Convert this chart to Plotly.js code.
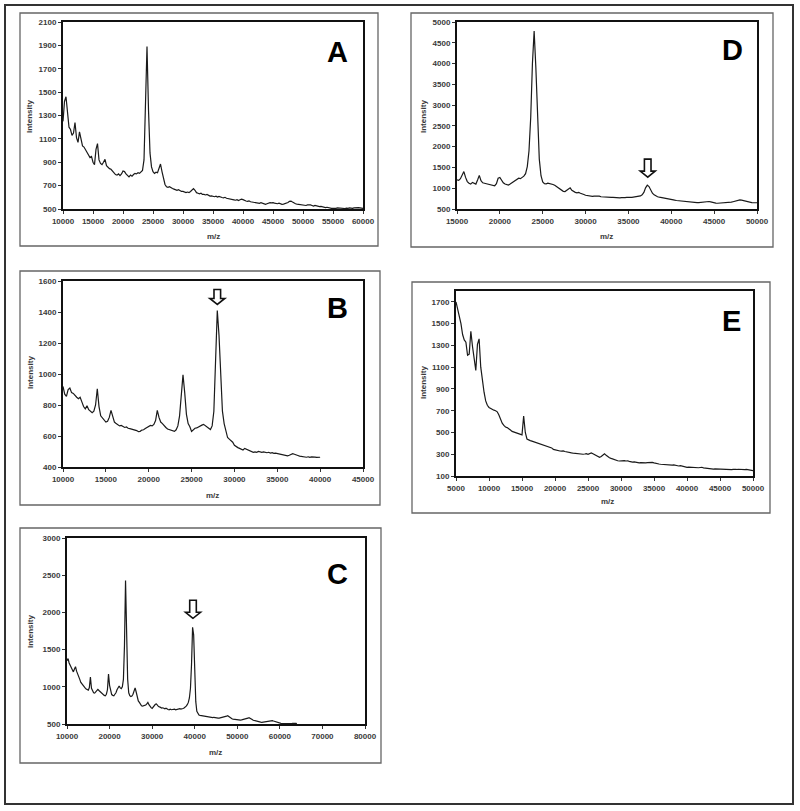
<!DOCTYPE html>
<html>
<head>
<meta charset="utf-8">
<script src="https://cdn.plot.ly/plotly-3.0.1.min.js"></script>
<style>html,body{margin:0;padding:0;background:#fff;}#chart{width:800px;height:811px;}</style>
</head>
<body>
<div id="chart"></div>
<script>
// ---------------- DATA ----------------
const panelLetters = ['A', 'B', 'C', 'D', 'E'];
const xAxisTitle = 'm/z';
const yAxisTitle = 'Intensity';

// Panel A: m/z 10000..60000 every 250
const mzStartA = 10000, mzStepA = 250;
const intensityA = [
  1250,1420,1460,1300,1200,1180,1130,1150,1240,1110,1070,1160,1080,1040,1030,1010,980,960,940,950,
  900,880,1010,1060,920,890,880,900,925,870,855,845,840,825,810,795,790,800,785,800,
  825,820,800,790,775,790,780,795,805,800,810,805,815,830,920,1450,1890,1350,980,860,
  820,805,815,810,850,885,820,760,710,690,685,690,680,675,670,665,660,665,655,650,
  650,645,640,645,640,650,665,675,660,640,635,630,635,625,625,620,625,615,610,612,
  608,605,610,602,608,600,598,595,600,592,590,585,588,580,578,575,580,572,578,585,
  580,570,568,565,570,562,560,555,558,552,550,548,555,550,545,540,545,550,555,552,
  555,550,548,545,550,545,540,542,545,550,555,565,568,560,550,545,542,540,535,532,
  530,528,530,535,538,535,530,525,530,525,520,520,522,518,515,512,515,510,508,505,
  505,502,505,510,508,505,502,505,504,508,505,510,508,505,510,512,508,512,510,506,
  505
];

// Panel B: m/z 10000..40000 every 200
const mzStartB = 10000, mzStepB = 200;
const intensityB = [
  920,870,855,900,910,880,875,860,850,840,850,820,790,775,795,770,760,750,760,800,905,790,730,715,700,
  690,695,720,765,720,690,680,670,665,668,660,655,658,650,648,645,640,642,635,628,630,638,640,648,655,
  662,668,665,675,700,765,720,690,680,665,655,645,640,638,632,630,640,665,730,880,995,880,740,680,660,
  630,640,650,652,660,662,670,675,665,660,650,642,665,760,1150,1410,1250,950,760,680,640,590,580,572,560,
  540,530,525,520,512,510,520,515,508,505,500,495,498,495,500,496,495,498,494,492,495,490,492,488,490,
  488,485,482,478,476,475,472,476,480,486,482,476,474,470,468,465,466,463,466,462,465,462,464,462,465,
  463
];

// Panel C: m/z 10000..64000 every 250
const mzStartC = 10000, mzStepC = 250;
const intensityC = [
  1350,1380,1320,1290,1250,1220,1200,1240,1270,1210,1180,1130,1100,1060,1040,1010,990,985,970,960,
  955,990,1130,980,935,920,915,935,950,965,950,935,920,905,895,885,880,900,960,1170,
  1020,930,895,885,880,900,920,960,1000,1010,985,975,1000,1100,1550,2430,1750,1100,920,880,
  870,875,900,950,985,930,860,810,790,760,745,740,745,740,755,770,790,760,735,720,
  710,730,750,765,770,750,735,730,720,715,718,710,705,712,700,695,690,700,692,698,
  695,700,690,695,700,695,705,700,710,708,715,725,740,760,790,850,980,1300,1800,1700,
  1150,800,670,630,620,615,612,608,610,605,600,602,598,595,592,590,588,585,590,585,
  588,582,580,578,582,585,590,592,588,595,605,612,600,585,578,570,565,562,560,558,
  555,556,554,552,555,558,556,560,565,570,578,585,580,570,560,550,545,540,535,532,
  530,528,525,522,525,528,526,530,532,535,538,540,542,545,540,535,530,522,515,512,
  510,508,506,505,504,503,505,504,503,505,504,506,508,512,515,510,505
];

// Panel D: m/z 15000..50000 every 200
const mzStartD = 15000, mzStepD = 200;
const intensityD = [
  1200,1190,1230,1330,1400,1260,1160,1120,1100,1140,1110,1100,1200,1310,1180,1130,1120,1110,1115,1100,1090,1085,1060,1110,1240,
  1260,1180,1130,1100,1080,1075,1100,1130,1160,1180,1200,1240,1230,1250,1290,1350,1520,1900,2700,4000,4780,3900,2500,1700,1300,
  1150,1110,1105,1120,1115,1110,1090,1070,1040,1010,980,950,925,920,950,990,1010,950,920,900,890,900,880,870,850,
  830,820,810,800,805,810,815,820,810,795,790,785,790,780,785,778,780,775,770,772,770,775,768,772,778,
  785,780,778,785,790,792,800,815,840,900,1010,1075,1040,950,880,840,810,795,785,775,765,760,750,742,735,
  725,718,712,705,700,695,690,685,680,672,665,660,655,652,650,652,655,660,665,670,672,668,680,670,655,
  645,640,638,640,642,640,645,648,652,658,665,675,688,700,712,718,712,700,685,670,660,655,652,650,648,
  650
];

// Panel E: m/z 5000..50000 every 250
const mzStartE = 5000, mzStepE = 250;
const intensityE = [
  1700,1640,1560,1500,1400,1350,1330,1210,1220,1430,1290,1200,1070,1310,1360,1100,960,870,790,750,
  730,720,712,705,700,690,660,620,585,565,550,545,530,522,510,505,500,495,490,485,
  478,650,500,440,430,425,420,415,410,405,400,395,390,385,380,378,372,365,358,345,
  340,335,332,330,328,330,325,320,318,315,312,310,308,305,302,300,298,300,302,305,
  300,310,312,305,295,285,278,272,280,295,305,290,275,268,262,255,250,245,240,238,
  240,245,242,238,240,235,230,228,230,225,222,220,222,220,218,220,222,225,228,225,
  220,215,212,210,208,206,204,202,200,202,198,200,202,198,195,192,195,190,185,182,
  180,182,180,178,180,177,175,176,178,180,175,172,170,168,166,165,164,166,165,163,
  165,163,160,158,155,156,155,158,160,158,160,162,160,158,156,158,160,157,155,152,
  150
];

// Axis ranges and tick steps (tick labels)
const xRangeA = [10000, 60000], yRangeA = [500, 2100], xTickA = 5000, yTickA = 200;
const xRangeB = [10000, 45000], yRangeB = [400, 1600], xTickB = 5000, yTickB = 200;
const xRangeC = [10000, 80000], yRangeC = [500, 3000], xTickC = 10000, yTickC = 500;
const xRangeD = [15000, 50000], yRangeD = [500, 5000], xTickD = 5000, yTickD = 500;
const xRangeE = [5000, 50000],  yRangeE = [100, 1800], xTickE = 5000, yTickE = 200;

// Marked peaks (hollow arrows): panel, m/z, intensity
const arrowPanels = ['B', 'C', 'D'];
const arrowMz = [28000, 39600, 37250];
const arrowIntensity = [1410, 1800, 1075];

// ---------------- LAYOUT ----------------
const W = 800, H = 811;
const FONT = 'Liberation Sans, Arial, sans-serif';
const INK = '#1a1a1a';

// plot-area pixel boxes [left, right, top, bottom]
const plotBox = {
  A: [63, 363, 22, 209],
  B: [63, 363, 281, 467],
  C: [67, 365, 538, 724],
  D: [457, 757, 22, 209],
  E: [456, 753, 291, 476]
};
// outer panel frames [left, right, top, bottom]
const panelFrame = {
  A: [20, 378, 13, 246],
  B: [20, 380, 271, 505],
  C: [20, 381, 528, 763],
  D: [411, 773, 13, 247],
  E: [412, 770, 282, 513]
};
const letterPos = { A: [337, 52], B: [337, 308], C: [337, 574], D: [732, 50], E: [731, 321] };
const ytitlePos = { A: [30, 117], B: [30, 373], C: [30, 632], D: [424, 117], E: [423, 383] };
const xtitlePos = { A: [213, 236], B: [212, 495], C: [215, 752], D: [606, 236], E: [607, 502] };
const arrowGap = { B: 6, C: 9, D: 8 };
const arrowLen = { B: 15, C: 18, D: 18 };

const series = {
  A: { x0: mzStartA, dx: mzStepA, y: intensityA, xr: xRangeA, yr: yRangeA, xt: xTickA, yt: yTickA },
  B: { x0: mzStartB, dx: mzStepB, y: intensityB, xr: xRangeB, yr: yRangeB, xt: xTickB, yt: yTickB },
  C: { x0: mzStartC, dx: mzStepC, y: intensityC, xr: xRangeC, yr: yRangeC, xt: xTickC, yt: yTickC },
  D: { x0: mzStartD, dx: mzStepD, y: intensityD, xr: xRangeD, yr: yRangeD, xt: xTickD, yt: yTickD },
  E: { x0: mzStartE, dx: mzStepE, y: intensityE, xr: xRangeE, yr: yRangeE, xt: xTickE, yt: yTickE }
};

const px = v => v / W;
const py = v => 1 - v / H;

const traces = [];
const layout = {
  width: W, height: H,
  margin: { l: 0, r: 0, t: 0, b: 0 },
  paper_bgcolor: '#fff', plot_bgcolor: '#fff',
  showlegend: false,
  font: { family: FONT, color: INK },
  shapes: [], annotations: []
};

// outer frame
layout.shapes.push({ type: 'rect', xref: 'paper', yref: 'paper', x0: px(5), x1: px(793), y0: py(5), y1: py(804),
  line: { color: '#333', width: 2 }, layer: 'below' });

const axisKey = {};
panelLetters.forEach((L, i) => {
  const n = i + 1;
  const xa = n === 1 ? 'xaxis' : 'xaxis' + n;
  const ya = n === 1 ? 'yaxis' : 'yaxis' + n;
  const xr = n === 1 ? 'x' : 'x' + n;
  const yr = n === 1 ? 'y' : 'y' + n;
  axisKey[L] = [xr, yr];
  const s = series[L];
  const b = plotBox[L];
  traces.push({
    type: 'scatter', mode: 'lines', x0: s.x0, dx: s.dx, y: s.y,
    xaxis: xr, yaxis: yr,
    line: { color: INK, width: 1.2 }, hoverinfo: 'skip'
  });
  const common = {
    showgrid: false, zeroline: false, showline: true, mirror: true,
    linecolor: '#111', linewidth: 2,
    ticks: 'outside', ticklen: 3, tickwidth: 1, tickcolor: '#333',
    tickfont: { family: FONT, size: 8, color: '#3a3a3a', weight: 'bold' },
    tickformat: 'd', fixedrange: true
  };
  layout[xa] = Object.assign({}, common, {
    domain: [px(b[0]), px(b[1])], range: s.xr, tick0: s.xr[0], dtick: s.xt,
    anchor: yr
  });
  layout[ya] = Object.assign({}, common, {
    domain: [py(b[3]), py(b[2])], range: s.yr, tick0: s.yr[0], dtick: s.yt,
    anchor: xr
  });
  const f = panelFrame[L];
  layout.shapes.push({ type: 'rect', xref: 'paper', yref: 'paper',
    x0: px(f[0]), x1: px(f[1]), y0: py(f[3]), y1: py(f[2]),
    line: { color: '#666', width: 1.3 }, layer: 'below' });
  layout.annotations.push({ xref: 'paper', yref: 'paper', x: px(letterPos[L][0]), y: py(letterPos[L][1]),
    text: L, showarrow: false, xanchor: 'center', yanchor: 'middle',
    font: { family: FONT, size: 29, color: '#000', weight: 'bold' } });
  layout.annotations.push({ xref: 'paper', yref: 'paper', x: px(ytitlePos[L][0]), y: py(ytitlePos[L][1]),
    text: yAxisTitle, textangle: -90, showarrow: false, xanchor: 'center', yanchor: 'middle',
    font: { family: FONT, size: 8, color: '#3a3a3a', weight: 'bold' } });
  layout.annotations.push({ xref: 'paper', yref: 'paper', x: px(xtitlePos[L][0]), y: py(xtitlePos[L][1]),
    text: xAxisTitle, showarrow: false, xanchor: 'center', yanchor: 'middle',
    font: { family: FONT, size: 8, color: '#3a3a3a', weight: 'bold' } });
});

// hollow down arrows over marked peaks
arrowPanels.forEach((L, i) => {
  const [xr, yr] = axisKey[L];
  const g = arrowGap[L], len = arrowLen[L];
  const hb = g + 6, top = g + len;
  const path = `M 0 ${g} L -7.5 ${hb} L -3.3 ${hb} L -3.3 ${top} L 3.3 ${top} L 3.3 ${hb} L 7.5 ${hb} Z`;
  layout.shapes.push({ type: 'path', xref: xr, yref: yr, xsizemode: 'pixel', ysizemode: 'pixel',
    xanchor: arrowMz[i], yanchor: arrowIntensity[i], path: path,
    fillcolor: '#fff', line: { color: '#111', width: 1.6 } });
});

Plotly.newPlot('chart', traces, layout, { staticPlot: true, displayModeBar: false });
</script>
</body>
</html>
